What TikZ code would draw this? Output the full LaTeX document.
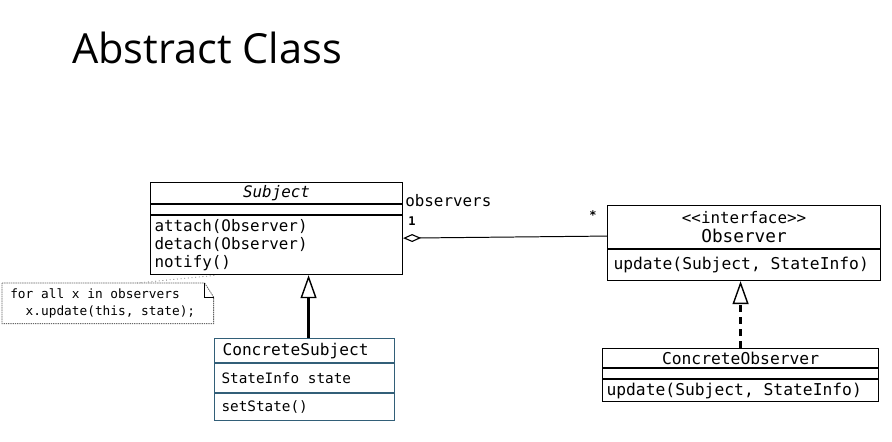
\documentclass[tikz,border=0pt]{standalone}
\usepackage{fontspec}
\setmainfont{Open Sans}
\setmonofont{DejaVu Sans Mono}
\usepackage{tikz}
\usetikzlibrary{positioning,arrows.meta,calc}
\usepackage{xcolor}
\definecolor{csline}{RGB}{50,95,120}
\newcommand\monofont[2]{\ttfamily\fontsize{#1}{#2}\selectfont}
\newcommand\msp{\hspace*{0.602em}}

\begin{document}
\begin{tikzpicture}[x=0.025cm,y=-0.025cm,
  cls/.style={draw,line width=0.75pt,rectangle,inner sep=0pt,anchor=north west,font=\monofont{11.3}{13.1}},
  gen/.style={line width=2pt,-{Triangle[open,length=0.575cm,width=0.4cm,line width=1pt]}},
  real/.style={gen,dash pattern=on 0.175cm off 0.125cm},
  aggr/.style={line width=0.7pt,{Diamond[open,length=0.45cm,width=0.2cm,line width=0.8pt]}-}]
\useasboundingbox (0,0) rectangle (892,441);
\fill[white] (0,0) rectangle (892,441);
\node[anchor=base west,inner sep=0pt,font=\fontsize{29.5}{34}\selectfont] (title) at (72,63) {Abstract Class};
% Subject
\node[cls,minimum width=6.3cm,minimum height=0.525cm] (subjName) at (150,182) {\itshape Subject};
\node[cls,minimum width=6.3cm,minimum height=0.25cm] (subjAttr) at (subjName.south west) {};
\node[cls,text width=6.1cm,inner xsep=0.1cm,minimum height=1.475cm,align=left] (subjOps) at (subjAttr.south west) {attach(Observer)\\detach(Observer)\\notify()};
% Observer
\node[cls,minimum width=6.825cm,minimum height=1.075cm,align=center] (obsName) at (607,205) {<<interface>>\\[1pt]{\fontsize{12.6}{14}\selectfont Observer}};
\node[cls,text width=6.525cm,inner xsep=0.15cm,minimum height=0.775cm,align=left,font=\monofont{11.6}{13}] (obsOps) at (obsName.south west) {update(Subject,\msp StateInfo)};
% ConcreteObserver
\node[cls,minimum width=6.9cm,minimum height=0.475cm,font=\monofont{11.6}{13}] (coName) at (602,348) {ConcreteObserver};
\node[cls,minimum width=6.9cm,minimum height=0.25cm] (coAttr) at (coName.south west) {};
\node[cls,text width=6.7cm,inner xsep=0.1cm,minimum height=0.55cm,align=left,font=\monofont{11.6}{13}] (coOps) at (coAttr.south west) {update(Subject,\msp StateInfo)};
% ConcreteSubject
\node[cls,draw=csline,text width=4.1cm,inner xsep=0.2cm,minimum height=0.6cm,align=left,font=\monofont{11.5}{13}] (csName) at (214,338) {ConcreteSubject};
\node[cls,draw=csline,text width=4.15cm,inner xsep=0.175cm,minimum height=0.725cm,align=left,font=\monofont{10.2}{12}] (csAttr) at (csName.south west) {StateInfo\msp state};
\node[cls,draw=csline,text width=4.15cm,inner xsep=0.175cm,minimum height=0.675cm,align=left,font=\monofont{10.2}{12}] (csOps) at (csAttr.south west) {setState()};
% note
\node[anchor=north west,inner xsep=0.2cm,inner ysep=0pt,text width=4.875cm,minimum height=1cm,align=left,font=\monofont{9.1}{12}] (note) at (2,283) {for\msp all\msp x\msp in\msp observers\\\phantom{xx}x.update(this,\msp state);};
\draw[gray!80!black,line width=0.6pt,dash pattern=on 1pt off 0.6pt] (note.north west) -- ($(note.north east)+(-9,0)$) -- ($(note.north east)+(0,14)$) -- (note.south east) -- (note.south west) -- cycle;
\draw[line width=0.6pt] ($(note.north east)+(-9,0)$) -- ($(note.north east)+(-9,14)$) -- ($(note.north east)+(0,14)$);
\draw[gray,line width=0.6pt,dotted] ($(note.north west)+(135,0)$) -- ($(subjOps.south west)+(67,0)$);
% connectors
\draw[aggr] ($(subjOps.north east)+(0,23)$) -- ($(obsName.south west)+(0,-13)$);
\node[anchor=west,inner sep=0pt,font=\monofont{11.3}{13}] (roleLbl) at (405,201) {observers};
\node[anchor=west,inner sep=0pt,font=\monofont{8.5}{10}\bfseries] (multOne) at (408,221) {1};
\node[anchor=west,inner sep=0pt,font=\monofont{8.5}{10}\bfseries] (multMany) at (589,215) {*};
\draw[gen] ($(csName.north)+(4,0)$) coordinate (gs) -- (gs |- subjOps.south);
\draw[real] (coName.north) -- (coName.north |- obsOps.south);
\end{tikzpicture}
\end{document}
